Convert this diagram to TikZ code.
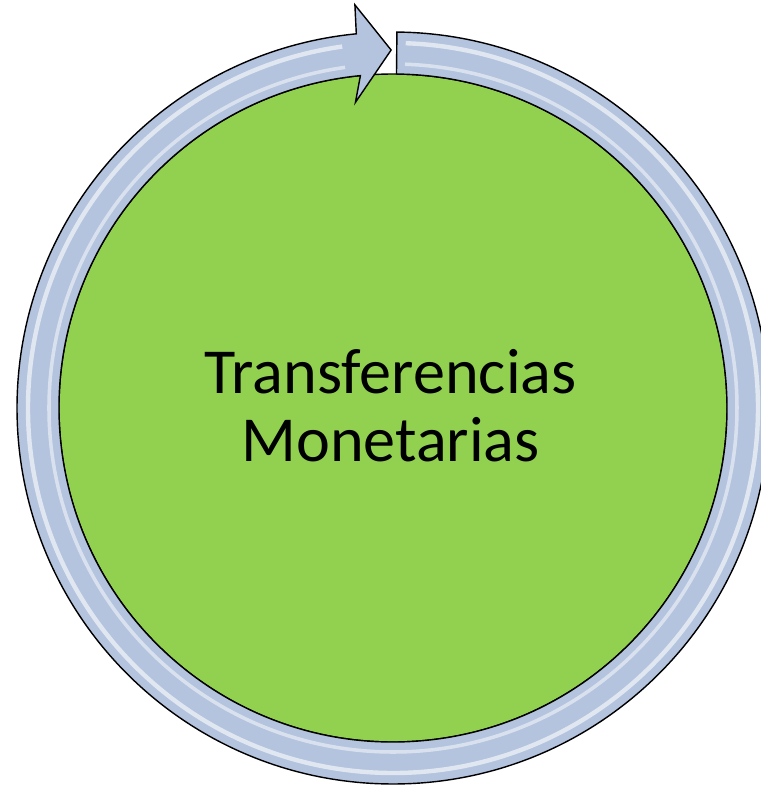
\documentclass[tikz,border=0pt]{standalone}
\usepackage{fontspec}
\setmainfont{Carlito}
\definecolor{ringblue}{RGB}{180,196,222}
\definecolor{diskgreen}{RGB}{146,208,80}

\begin{document}
\begin{tikzpicture}[every node/.style={align=center}]
  \useasboundingbox (-7.86cm,-7.56cm) rectangle (7.34cm,8.16cm);
  \node (disk) [circle, draw, fill=diskgreen, line width=.8pt, minimum size=13.36cm, inner sep=0pt] at (0cm, 0cm) {};
  % circular arrow round the disk
  \draw[fill=ringblue, line width=.8pt, line join=miter]
    (89.4:7.52) arc[start angle=89.4, end angle=-264.4, radius=7.52cm]
    -- (-264.6:8.1) -- (-269.7:7.16) -- (-263:6.16) -- (-264.4:6.68)
    arc[start angle=-264.4, end angle=89.4, radius=6.68cm] -- cycle;
  % glossy stripes
  \draw[white, opacity=.6, line width=2.5pt] (88:7.3) arc[start angle=88, end angle=-262, radius=7.3cm];
  \draw[white, opacity=.5, line width=2pt] (88:6.88) arc[start angle=88, end angle=-262, radius=6.88cm];
  \node (title) [font={\fontsize{36.5}{38.5}\selectfont}] at (-0.05cm, 0.05cm) {Transferencias\\Monetarias};
\end{tikzpicture}
\end{document}
